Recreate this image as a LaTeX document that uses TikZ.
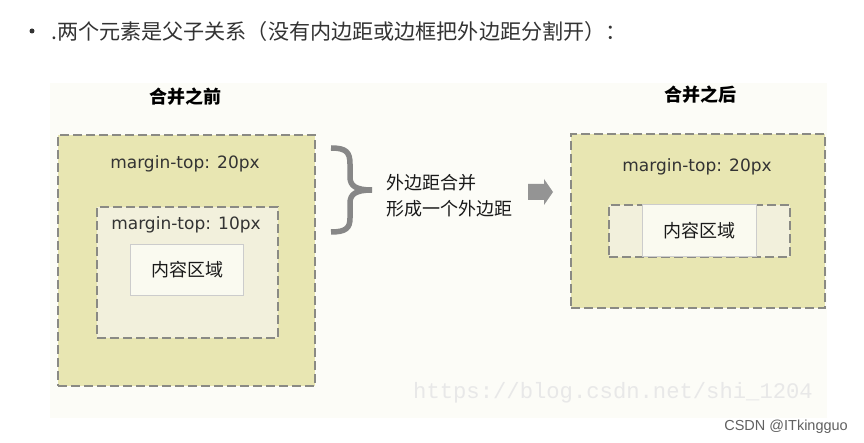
\documentclass[tikz,border=0pt]{standalone}
\usepackage{fontspec}
\setmainfont{DejaVu Sans}
\newfontfamily\cjk{Noto Sans CJK SC}
\newfontfamily\mono{Liberation Mono}
\newfontfamily\lsans{Liberation Sans}
\definecolor{khaki}{HTML}{E8E6B2}
\definecolor{pale}{HTML}{F2F0DC}
\definecolor{content}{HTML}{FAFAF0}
\definecolor{dashgray}{HTML}{8A8A84}
\definecolor{panel}{HTML}{FCFCF7}
\definecolor{txt}{HTML}{333333}
\begin{document}
\begin{tikzpicture}[x=1pt,y=-1pt,
  dbox/.style={draw=dashgray, line width=2pt, dash pattern=on 9pt off 4pt, inner sep=0pt, anchor=north west},
  cbox/.style={draw=black!20, line width=1.2pt, fill=content, inner sep=0pt, anchor=north west},
  mtext/.style={font=\fontsize{17}{19}\selectfont, text=txt},
  ztext/.style={font=\cjk\fontsize{18}{20}\selectfont, text=black!90},
  htext/.style={font=\cjk\bfseries\fontsize{18}{20}\selectfont, text=black}]
\useasboundingbox (0,0) rectangle (864,443);
\fill[white] (0,0) rectangle (864,443);
% top line
\node[circle, fill=txt, inner sep=0pt, minimum size=5pt] (bul) at (32,31) {};
\node[anchor=west, inner sep=0pt, font=\cjk\fontsize{21.1}{23}\selectfont, text=txt] (title) at (51,31) {.两个元素是父子关系（没有内边距或边框把外边距分割开）：};
% panel
\node[fill=panel, inner sep=0pt, anchor=north west, minimum width=777pt, minimum height=335pt] (panel) at (50,83) {};
% left
\node[htext] (hl) at (185,97) {合并之前};
\node[dbox, fill=khaki, minimum width=257pt, minimum height=251pt] (lo) at (57,134) {};
\node[mtext] (lm1) at (185,164) {margin-top: 20px};
\node[dbox, fill=pale, minimum width=181pt, minimum height=131pt] (li) at (96,206) {};
\node[mtext] (lm2) at (186,225) {margin-top: 10px};
\node[cbox, minimum width=113pt, minimum height=51pt] (lc) at (130,244) {};
\node[ztext] (lct) at (lc.center) {内容区域};
% brace
\coordinate (br) at (350,190);
\draw[line width=5.5pt, draw=black!47, line cap=butt]
  (331,148) .. controls (346,148) and (350,152) .. (350,164) -- (350,177)
  .. controls (350,186) and (356,190) .. (372,190)
  .. controls (356,190) and (350,194) .. (350,203) -- (350,218)
  .. controls (350,228) and (346,232) .. (331,232);
\node[ztext, anchor=west, align=left, font=\cjk\fontsize{18}{26}\selectfont] (mid) at (383,196) {外边距合并\\形成一个外边距};
% block arrow
\coordinate (arr) at (528,192);
\fill[black!42] (arr) ++(0,-8) -- ++(16,0) -- ++(0,-5) -- (553,192) -- (544,205) -- ++(0,-5) -- (528,200) -- cycle;
% right
\node[htext] (hr) at (700,95) {合并之后};
\node[dbox, fill=khaki, minimum width=254pt, minimum height=174pt] (ro) at (570,133) {};
\node[mtext] (rm1) at (697,167) {margin-top: 20px};
\node[dbox, fill=pale, minimum width=181pt, minimum height=52pt] (ri) at (608,204) {};
\node[cbox, minimum width=114pt, minimum height=52pt] (rc) at (642,204) {};
\node[ztext] (rct) at (rc.center) {内容区域};
% watermark
\node[font=\mono\fontsize{22.2}{24}\selectfont, text=black!9, inner sep=0pt, anchor=west] (wm) at (413,393) {https://blog.csdn.net/shi\_1204};
\node[font=\lsans\fontsize{14.5}{16}\selectfont, text=black!62, inner sep=0pt, anchor=east] (csdn) at (848,427) {CSDN @ITkingguo};
\end{tikzpicture}
\end{document}
